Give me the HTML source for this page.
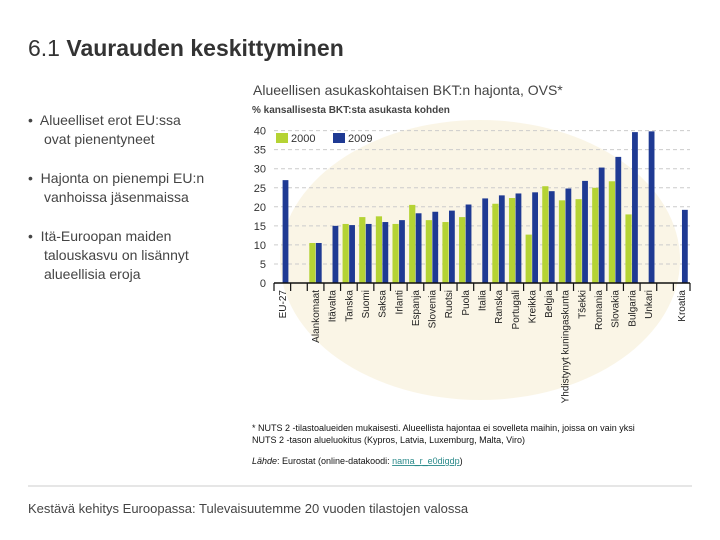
<!DOCTYPE html>
<html><head><meta charset="utf-8"><style>
body{margin:0;width:720px;height:540px;background:#fff;font-family:"Liberation Sans",Arial,sans-serif;position:relative;overflow:hidden}
.abs{position:absolute}
</style></head><body>
<div class="abs" style="left:28px;top:35px;font-size:23px;color:#333">6.1 <b>Vaurauden keskittyminen</b></div>
<div class="abs" style="left:253px;top:82px;font-size:14px;color:#444">Alueellisen asukaskohtaisen BKT:n hajonta, OVS*</div>
<div class="abs" style="left:28px;top:111px;font-size:14px;color:#444;line-height:19px;width:180px">
<div style="padding-left:16px;text-indent:-16px">•&nbsp; Alueelliset erot EU:ssa ovat pienentyneet</div>
<div style="padding-left:16px;text-indent:-16px;margin-top:20px">•&nbsp; Hajonta on pienempi EU:n vanhoissa jäsenmaissa</div>
<div style="padding-left:16px;text-indent:-16px;margin-top:20px">•&nbsp; Itä-Euroopan maiden talouskasvu on lisännyt alueellisia eroja</div>
</div>
<svg class="abs" style="left:0;top:0" width="720" height="540" id="chart">
<ellipse cx="480" cy="260" rx="200" ry="140" fill="#f7efd6" opacity="0.6"/>
<text x="252" y="113" font-size="10" font-weight="bold" fill="#444">% kansallisesta BKT:sta asukasta kohden</text>
<rect x="276" y="133" width="12" height="10" fill="#b5d334"/>
<text x="291" y="142" font-size="11" fill="#333">2000</text>
<rect x="333" y="133" width="12" height="10" fill="#1f3a93"/>
<text x="348" y="142" font-size="11" fill="#333">2009</text>
<g id="g"></g>
<text x="252" y="431" font-size="9" fill="#111">* NUTS 2 -tilastoalueiden mukaisesti. Alueellista hajontaa ei sovelleta maihin, joissa on vain yksi</text>
<text x="252" y="443" font-size="9" fill="#111">NUTS 2 -tason alueluokitus (Kypros, Latvia, Luxemburg, Malta, Viro)</text>
<text x="252" y="464" font-size="9" fill="#111"><tspan font-style="italic">Lähde</tspan>: Eurostat (online-datakoodi: <tspan fill="#2a8a8a" text-decoration="underline">nama_r_e0digdp</tspan>)</text>
<line x1="28" y1="486" x2="692" y2="486" stroke="#ccc"/>
<text x="28" y="513" font-size="13" fill="#444">Kestävä kehitys Euroopassa: Tulevaisuutemme 20 vuoden tilastojen valossa</text>
</svg>
<script>
const categories=["EU-27","","Alankomaat","Itävalta","Tanska","Suomi","Saksa","Irlanti","Espanja","Slovenia","Ruotsi","Puola","Italia","Ranska","Portugali","Kreikka","Belgia","Yhdistynyt kuningaskunta","Tšekki","Romania","Slovakia","Bulgaria","Unkari","","Kroatia"];
const values2000=[null,null,10.5,null,15.5,17.3,17.5,15.5,20.5,16.5,16,17.3,null,20.8,22.3,12.7,25.4,21.7,22,25,26.7,18,null,null,null];
const values2009=[27,null,10.5,15,15.2,15.5,16,16.5,18.3,18.7,19,20.6,22.2,23,23.5,23.8,24.1,24.8,26.8,30.3,33.1,39.6,39.8,null,19.2];
const yTicks=[0,5,10,15,20,25,30,35,40];
const NS="http://www.w3.org/2000/svg",g=document.getElementById('g');
const x0=274,slot=16.64,yb=283,ppu=3.81;
const y=v=>yb-v*ppu, xs=i=>x0+i*slot;
function mk(t,a){const e=document.createElementNS(NS,t);for(const k in a)e.setAttribute(k,a[k]);g.appendChild(e);return e;}
yTicks.forEach(t=>{
 if(t>0){const l=mk('line',{x1:x0,x2:690,y1:y(t),y2:y(t),stroke:'#ccc','stroke-dasharray':'4,3'});
 
 }
 const tx=mk('text',{x:266,y:y(t)+4,'font-size':11,fill:'#333','text-anchor':'end'});tx.textContent=t;
 
 
});
categories.forEach((c,i)=>{
 if(values2000[i]!=null){const r=mk('rect',{x:xs(i)+2,y:y(values2000[i]),width:6.2,height:values2000[i]*ppu,fill:'#b5d334'});
 
 }
 if(values2009[i]!=null){const r=mk('rect',{x:xs(i)+8.6,y:y(values2009[i]),width:5.8,height:values2009[i]*ppu,fill:'#1f3a93'});
 
 }
 if(c){const cx=xs(i)+slot/2+3.5;const t=mk('text',{x:0,y:0,'font-size':10,fill:'#222','text-anchor':'end',transform:`translate(${cx},290) rotate(-90)`});t.textContent=c;
 
 }
});
for(let i=0;i<=25;i++){const l=mk('line',{x1:xs(i),x2:xs(i),y1:yb,y2:yb+8,stroke:'#111','stroke-width':1.2});
 
 }
const ax=mk('line',{x1:x0,x2:x0+25*slot,y1:yb,y2:yb,stroke:'#111','stroke-width':1.5});


</script>
</body></html>
